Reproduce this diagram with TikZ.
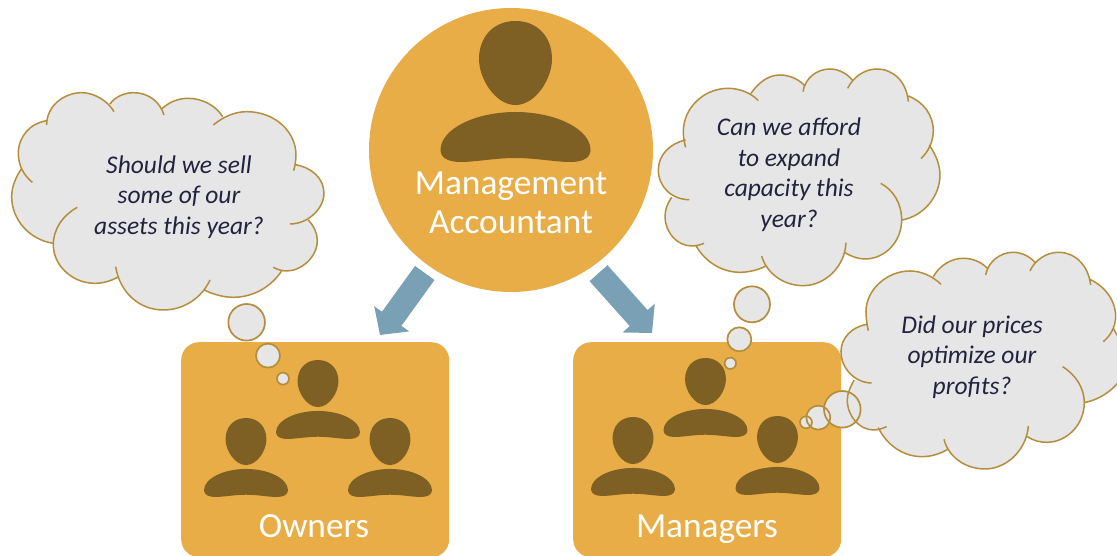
\documentclass[tikz,border=0pt]{standalone}
\usepackage{fontspec}
\setmainfont{Carlito}
\usetikzlibrary{arrows.meta}
\definecolor{gold}{HTML}{E8AD46}
\definecolor{brown}{HTML}{7E5F24}
\definecolor{steel}{HTML}{7AA0B5}
\definecolor{cloudfill}{HTML}{E6E6E6}
\definecolor{cloudline}{HTML}{B58E3C}
\definecolor{ink}{HTML}{23233F}
\tikzset{
  box/.style={draw=none,fill=gold,rounded corners=18pt,minimum width=268pt,minimum height=215pt,anchor=north west,inner sep=0pt},
  disc/.style={circle,fill=gold,minimum size=284pt,inner sep=0pt},
  title/.style={text=white,font=\fontsize{35.3}{39}\selectfont,align=center,inner sep=0pt},
  thought/.style={text=ink,font=\fontsize{25.5}{30.5}\selectfont\itshape,align=center,inner sep=0pt},
  flow/.style={draw=steel,line width=24pt,-{Triangle[length=20pt,width=42pt,fill=steel]}},
  cloudedge/.style={draw=cloudline,line width=1.5pt},
  bubble/.style={fill=cloudfill,draw=cloudline,line width=1.7pt},
  pics/person/.style={code={
    \fill[brown] (0,0) .. controls (22,0) and (36.5,16) .. (36.5,38) .. controls (36.5,58) and (20,84) .. (0,84) .. controls (-20,84) and (-36.5,58) .. (-36.5,38) .. controls (-36.5,16) and (-22,0) .. (0,0) -- cycle;
    \fill[brown] (0,91) .. controls (40,91) and (75,108) .. (75,129) .. controls (75,138) and (65,141) .. (55,141) .. controls (40,141) and (20,137) .. (0,137) .. controls (-20,137) and (-40,141) .. (-55,141) .. controls (-65,141) and (-75,138) .. (-75,129) .. controls (-75,108) and (-40,91) .. (0,91) -- cycle;
  }}
}
\def\cloudA#1{(140,135) .. controls (140,75) and (195,38) .. (245,38) .. controls (285,38) and (325,65) .. (342,95)
 #1 (330,72) .. controls (345,50) and (375,38) .. (400,38) .. controls (445,38) and (480,65) .. (492,105)
 #1 (487,85) .. controls (510,65) and (535,55) .. (565,55) .. controls (610,55) and (650,80) .. (668,110)
 #1 (640,135) .. controls (670,110) and (705,95) .. (740,95) .. controls (825,95) and (888,155) .. (888,225) .. controls (888,240) and (885,258) .. (881,272)
 #1 (885,254) .. controls (935,262) and (972,295) .. (972,340) .. controls (972,385) and (925,432) .. (870,432)
 #1 (925,420) .. controls (943,440) and (952,460) .. (952,482) .. controls (952,530) and (905,573) .. (860,573) .. controls (845,573) and (832,568) .. (820,562)
 #1 (847,570) .. controls (815,620) and (760,652) .. (700,652) .. controls (670,652) and (640,643) .. (612,630)
 #1 (630,600) .. controls (605,655) and (550,690) .. (490,690) .. controls (420,690) and (360,640) .. (347,560)
 #1 (353,592) .. controls (332,603) and (310,610) .. (285,610) .. controls (215,610) and (160,555) .. (160,495) .. controls (160,445) and (190,405) .. (232,382)
 #1 (160,490) .. controls (90,480) and (35,420) .. (35,350) .. controls (35,320) and (48,290) .. (65,265)
 #1 (97,307) .. controls (70,285) and (55,255) .. (55,220) .. controls (55,170) and (90,130) .. (140,122)}
\def\cloudB#1{(107,262) .. controls (102,245) and (100,230) .. (100,215) .. controls (100,145) and (160,85) .. (235,85) .. controls (270,85) and (305,100) .. (325,122)
 #1 (303,100) .. controls (325,68) and (355,45) .. (390,45) .. controls (420,45) and (450,60) .. (465,78)
 #1 (459,95) .. controls (465,55) and (500,27) .. (540,27) .. controls (565,27) and (590,40) .. (607,60)
 #1 (593,85) .. controls (610,50) and (645,27) .. (680,27) .. controls (730,27) and (770,65) .. (775,125)
 #1 (775,108) .. controls (820,125) and (850,165) .. (850,212) .. controls (850,245) and (835,275) .. (813,296)
 #1 (838,255) .. controls (858,285) and (870,315) .. (870,345) .. controls (870,410) and (820,468) .. (757,480)
 #1 (692,370) .. controls (730,390) and (755,430) .. (755,480) .. controls (755,545) and (705,597) .. (645,597) .. controls (625,597) and (605,590) .. (585,578)
 #1 (588,548) .. controls (585,620) and (525,677) .. (460,677) .. controls (400,677) and (350,640) .. (335,588)
 #1 (348,618) .. controls (325,630) and (295,637) .. (270,637) .. controls (215,637) and (165,605) .. (138,557)
 #1 (162,550) .. controls (150,555) and (138,558) .. (125,558) .. controls (80,558) and (45,515) .. (45,470) .. controls (45,450) and (52,430) .. (65,412)
 #1 (118,419) .. controls (65,419) and (25,380) .. (25,330) .. controls (25,285) and (60,250) .. (107,240)}
\def\cloudC#1{(655,812) .. controls (650,790) and (648,770) .. (648,755) .. controls (648,690) and (710,633) .. (780,633) .. controls (815,633) and (850,650) .. (873,673)
 #1 (850,650) .. controls (870,615) and (905,595) .. (940,595) .. controls (970,595) and (995,607) .. (1012,625)
 #1 (1007,645) .. controls (1015,605) and (1050,577) .. (1090,577) .. controls (1115,577) and (1140,590) .. (1155,607)
 #1 (1140,633) .. controls (1155,600) and (1190,577) .. (1225,577) .. controls (1275,577) and (1315,615) .. (1322,675)
 #1 (1320,658) .. controls (1365,680) and (1397,720) .. (1397,770) .. controls (1397,795) and (1385,825) .. (1360,845)
 #1 (1390,805) .. controls (1410,840) and (1430,870) .. (1430,900) .. controls (1430,960) and (1370,1015) .. (1303,1028)
 #1 (1238,920) .. controls (1278,945) and (1303,985) .. (1303,1028) .. controls (1303,1095) and (1250,1147) .. (1190,1147) .. controls (1170,1147) and (1150,1142) .. (1132,1130)
 #1 (1135,1098) .. controls (1130,1170) and (1070,1227) .. (1005,1227) .. controls (945,1227) and (895,1190) .. (882,1138)
 #1 (895,1167) .. controls (870,1182) and (845,1190) .. (815,1190) .. controls (760,1190) and (710,1155) .. (685,1103)
 #1 (710,1100) .. controls (695,1107) and (682,1110) .. (670,1110) .. controls (630,1110) and (592,1070) .. (592,1020) .. controls (592,1000) and (600,985) .. (612,960)
 #1 (665,969) .. controls (615,969) and (573,925) .. (573,875) .. controls (573,835) and (605,800) .. (652,793)}
\begin{document}
\begin{tikzpicture}[x=1pt,y=-1pt]
\useasboundingbox (0,0) rectangle (1117,556);
\fill[white] (0,0) rectangle (1117,556);
\begin{scope}
\clip (0,0) rectangle (1117,556);
% boxes and disc
\node[box] (own) at (181,342) {};
\node[box] (mgr) at (573,342) {};
\node[disc] (ma) at (511,150) {};
% people
\pic[scale=1] at (515.5,21) {person};
\foreach \px/\py in {318/360,246/418,390/418,705.5/358,633/417,777.5/416}{
  \pic[scale=.56] at (\px,\py) {person};
}
% labels
\node[title] (malabel) at (511,203) {Management\\Accountant};
\node[title,anchor=base] (ownlabel) at (314,537) {Owners};
\node[title,anchor=base] (mgrlabel) at (707,537) {Managers};
% arrows
\coordinate (ownin) at (380,335);
\coordinate (mgrin) at (652,333);
\draw[flow,shorten <=8pt] (ma.235) -- (ownin);
\draw[flow,shorten <=9pt] (ma.305) -- (mgrin);
% left thought
\begin{scope}[shift={(0,80)},x=0.3333pt,y=-0.3333pt]
\fill[cloudfill] \cloudA{--} -- cycle;
\draw[cloudedge] \cloudA{};
\draw[bubble] (740,727) circle[radius=18.3pt];
\draw[bubble] (804,827) circle[radius=12pt];
\draw[bubble] (849,896) circle[radius=6pt];
\end{scope}
\node[thought] (t1) at (179,197) {Should we sell\\some of our\\assets this year?};
% right thoughts
\begin{scope}[shift={(650,60)},x=0.3333pt,y=-0.3333pt]
\fill[cloudfill] \cloudB{--} -- cycle;
\draw[cloudedge] \cloudB{};
\draw[bubble] (306,733) circle[radius=18pt];
\draw[bubble] (268,838) circle[radius=12pt];
\draw[bubble] (241,910) circle[radius=5.7pt];
% third cloud: fills first, then every outline, so that the outlines show through
\fill[cloudfill] \cloudC{--} -- cycle;
\fill[cloudfill] (577,1048) circle[radius=18.3pt];
\fill[cloudfill] (505,1073) circle[radius=12pt];
\fill[cloudfill] (468,1087) circle[radius=6pt];
\draw[cloudedge] \cloudC{};
\draw[bubble,fill=none] (577,1048) circle[radius=18.3pt];
\draw[bubble,fill=none] (505,1073) circle[radius=12pt];
\draw[bubble,fill=none] (468,1087) circle[radius=6pt];
\end{scope}
\node[thought] (t2) at (789,174.5) {Can we afford\\to expand\\capacity this\\year?};
\node[thought] (t3) at (972,357) {Did our prices\\optimize our\\profits?};
\end{scope}
\end{tikzpicture}
\end{document}
